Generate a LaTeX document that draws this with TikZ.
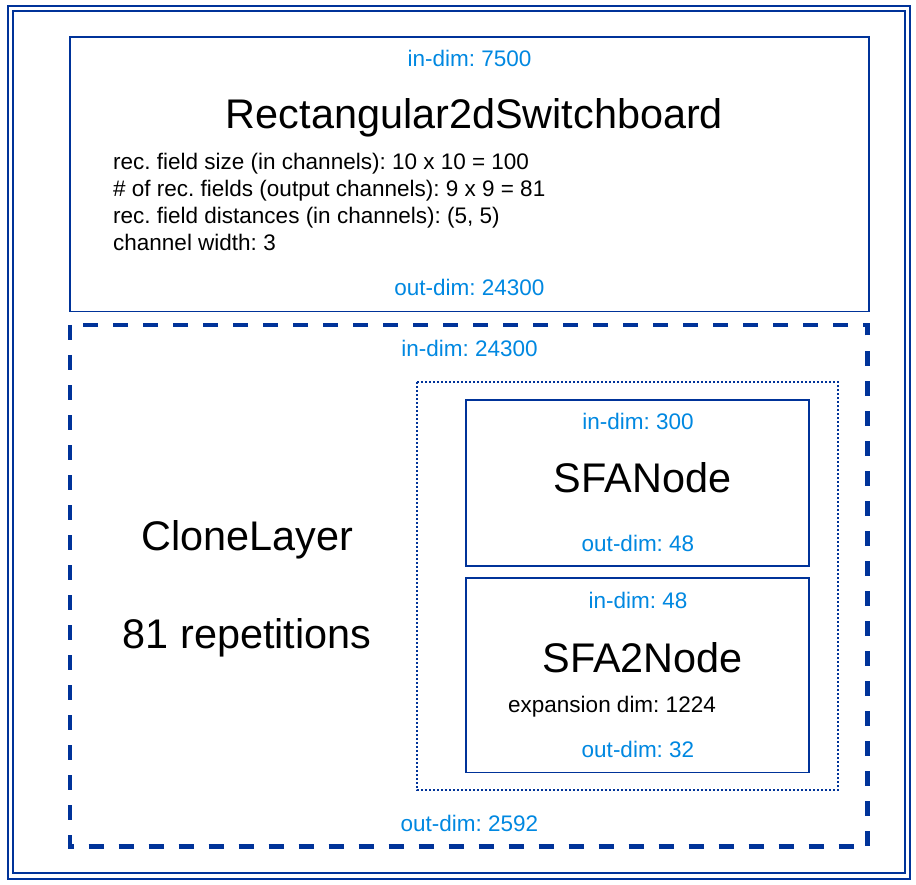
\documentclass[tikz,border=0pt]{standalone}
\usepackage{fontspec}
\setmainfont{Liberation Sans}
\usepackage{tikz}
\usetikzlibrary{positioning}
\frenchspacing

\definecolor{boxblue}{RGB}{0,51,153}
\definecolor{dimblue}{RGB}{0,136,225}
\newcommand{\smallfont}{\fontsize{22.5}{27}\selectfont}
\newcommand{\bigfont}{\fontsize{41.4}{50}\selectfont}

\begin{document}
\begin{tikzpicture}[x=1pt, y=-1pt,
  box/.style={draw=boxblue, line width=1.8pt},
  dimlabel/.style={text=dimblue, font=\smallfont, anchor=base, inner sep=0pt},
  info/.style={font=\smallfont, anchor=base west, inner sep=0pt},
  title/.style={font=\bigfont, anchor=base, inner sep=0pt}]

\useasboundingbox[fill=white] (0,0) rectangle (916,885);

% frame round the whole flow
\draw[box, double=white, double distance=3.7pt] (10.5,8.5) rectangle (907.5,876);

% switchboard
\draw[box] (70,37) rectangle (869,311.5);
\node[dimlabel] (swIn) at (469.5,67) {in-dim: 7500};
\node[title] (swName) at (474.5,129) {Rectangular2dSwitchboard};
\foreach \txt [count=\i] in {rec. field size (in channels): 10 x 10 = 100,
    \# of rec. fields (output channels): 9 x 9 = 81,
    {rec. field distances (in channels): (5, 5)},
    channel width: 3}
  \node[info] (swInfo\i) at (113,143+27*\i) {\txt};
\node[dimlabel] (swOut) at (469.5,296) {out-dim: 24300};

% clone layer
\draw[boxblue, line width=4.5pt, dash pattern=on 15pt off 15pt] (70,325) rectangle (867.5,846.5);
\node[dimlabel] (clIn) at (469.5,356) {in-dim: 24300};
\node[title] (clName) at (247,550) {CloneLayer};
\node[title] (clReps) at (247,648) {81 repetitions};
\node[dimlabel] (clOut) at (469.5,831) {out-dim: 2592};

% flow inside the clone layer
\draw[boxblue, line width=2pt, dash pattern=on 2pt off 2pt] (417,382) rectangle (838,790);

% SFA node
\draw[box] (466,400) rectangle (809,566);
\node[dimlabel] (sfaIn) at (638,429) {in-dim: 300};
\node[title] (sfaName) at (642.5,492) {SFANode};
\node[dimlabel] (sfaOut) at (638,551) {out-dim: 48};

% SFA2 node
\draw[box] (466,578) rectangle (809,772.5);
\node[dimlabel] (sfa2In) at (638,608) {in-dim: 48};
\node[title] (sfa2Name) at (642.5,672) {SFA2Node};
\node[info] (sfa2Info) at (508,712) {expansion dim: 1224};
\node[dimlabel] (sfa2Out) at (638,757) {out-dim: 32};

\end{tikzpicture}
\end{document}
